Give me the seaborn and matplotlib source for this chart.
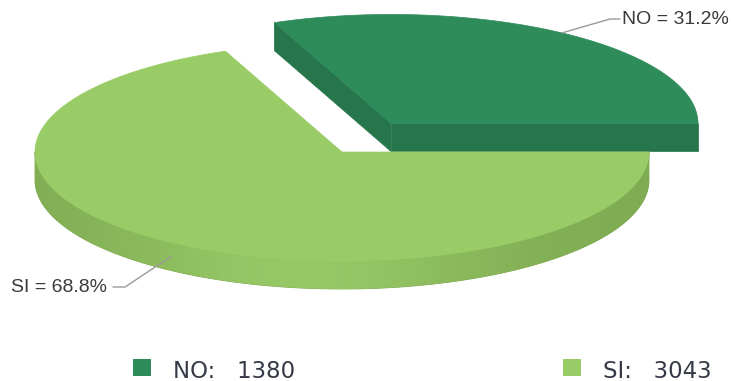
import numpy as np
import matplotlib
matplotlib.use("Agg")
import matplotlib.pyplot as plt
from matplotlib.patches import Polygon, Rectangle
from matplotlib.colors import to_rgb
import seaborn as sns

# Survey answers
categories = ["NO", "SI"]
counts = [1380, 3043]

top_colors = ["#2e8b5a", "#99cc66"]
side_colors = ["#26754b", "#7fab52"]
side_light = "#97c866"

sns.set_theme(style="white")
palette = sns.color_palette(top_colors)

W, H = 733, 381
fig = plt.figure(figsize=(W / 100, H / 100), dpi=100)
ax = fig.add_axes([0, 0, 1, 1])
ax.set_xlim(0, W)
ax.set_ylim(H, 0)
ax.axis("off")

# 3D pie geometry (pixel space)
cx, cy = 342.0, 152.0
a, b = 307.0, 109.0
depth = 28.0
explode_px = [88.0, 0.0]

total = float(sum(counts))
fracs = [c / total for c in counts]
bounds = np.concatenate([[0.0], np.cumsum(fracs) * 360.0])


def rim(t, ox, oy, dz=0.0):
    r = np.radians(t)
    return ox + a * np.cos(r), oy - b * np.sin(r) + dz


def side_gradient(x0, x1, base, light, peak):
    xs = np.linspace(x0, x1, 400)
    w = np.exp(-((xs - peak) / 190.0) ** 2)
    dark = np.array(to_rgb(base))
    lite = np.array(to_rgb(light))
    row = dark[None, :] + (lite - dark)[None, :] * w[:, None]
    return row[None, :, :]


label_pos = []
for i, (cat, f) in enumerate(zip(categories, fracs)):
    t0, t1 = bounds[i], bounds[i + 1]
    mid = np.radians((t0 + t1) / 2)
    ox = cx + explode_px[i] * np.cos(mid)
    oy = cy - explode_px[i] * np.sin(mid) * (b / a) * 1.1
    col_top = palette[i]

    # radial walls facing the viewer
    for t, normal in ((t0, t0 - 90), (t1, t1 + 90)):
        if np.sin(np.radians(normal)) < -1e-6:
            px, py = rim(t, ox, oy)
            quad = [(ox, oy), (px, py), (px, py + depth), (ox, oy + depth)]
            ax.add_patch(Polygon(quad, closed=True, fc=side_colors[i], ec=side_colors[i], lw=0.5))

    # curved outer wall on the front half, shaded left to right
    lo, hi = max(t0, 180.0), min(t1, 360.0)
    if hi > lo:
        ts = np.linspace(lo, hi, 300)
        xs, ys = rim(ts, ox, oy)
        wall = list(zip(xs, ys)) + list(zip(xs[::-1], ys[::-1] + depth))
        patch = Polygon(wall, closed=True, fc=side_colors[i], ec=side_colors[i], lw=0.6)
        ax.add_patch(patch)
        if i == 1:
            x0, x1 = xs.min() - 1, xs.max() + 1
            y0, y1 = ys.min() - 1, ys.max() + depth + 1
            img = ax.imshow(side_gradient(x0, x1, side_colors[i], side_light, 300.0),
                            extent=(x0, x1, y1, y0), aspect="auto", zorder=patch.get_zorder(),
                            interpolation="bilinear")
            clip = Polygon(wall, closed=True, transform=ax.transData)
            img.set_clip_path(clip)

    # top face
    ts = np.linspace(t0, t1, 300)
    xs, ys = rim(ts, ox, oy)
    pts = [(ox, oy)] + list(zip(xs, ys))
    ax.add_patch(Polygon(pts, closed=True, fc=col_top, ec=col_top, lw=0.5, zorder=3))
    label_pos.append((ox, oy, np.degrees(mid)))

ax.set_xlim(0, W)
ax.set_ylim(H, 0)

# data labels with connectors
line_kw = dict(color="#9a9a9a", lw=1.0, zorder=5)
text_kw = dict(fontsize=14, color="#3a3a3a", family="Liberation Sans", va="center", zorder=5)

# NO (back, right side)
ox, oy, m = label_pos[0]
sx, sy = rim(m, ox, oy)
ax.plot([sx, 610, 620], [sy, 19, 19], **line_kw)
ax.text(622, 20, f"{categories[0]} = {fracs[0] * 100:.1f}%", ha="left", **text_kw)

# SI (front, left side)
ox, oy, m = label_pos[1]
sx, sy = rim(m, ox, oy, depth / 2)
ax.plot([sx, 125, 113], [sy, 287, 287], **line_kw)
ax.text(107, 287, f"{categories[1]} = {fracs[1] * 100:.1f}%", ha="right", **text_kw)

# legend
legend_x = [133, 563]
for i, cat in enumerate(categories):
    ax.add_patch(Rectangle((legend_x[i], 359), 18, 17, fc=palette[i], ec="none", zorder=5))
    ax.text(legend_x[i] + 40, 371, f"{cat}:   {counts[i]}", fontsize=16.5, color="#363a48",
            family="DejaVu Sans", va="center", ha="left", zorder=5)

fig.savefig("out.png", dpi=100)
